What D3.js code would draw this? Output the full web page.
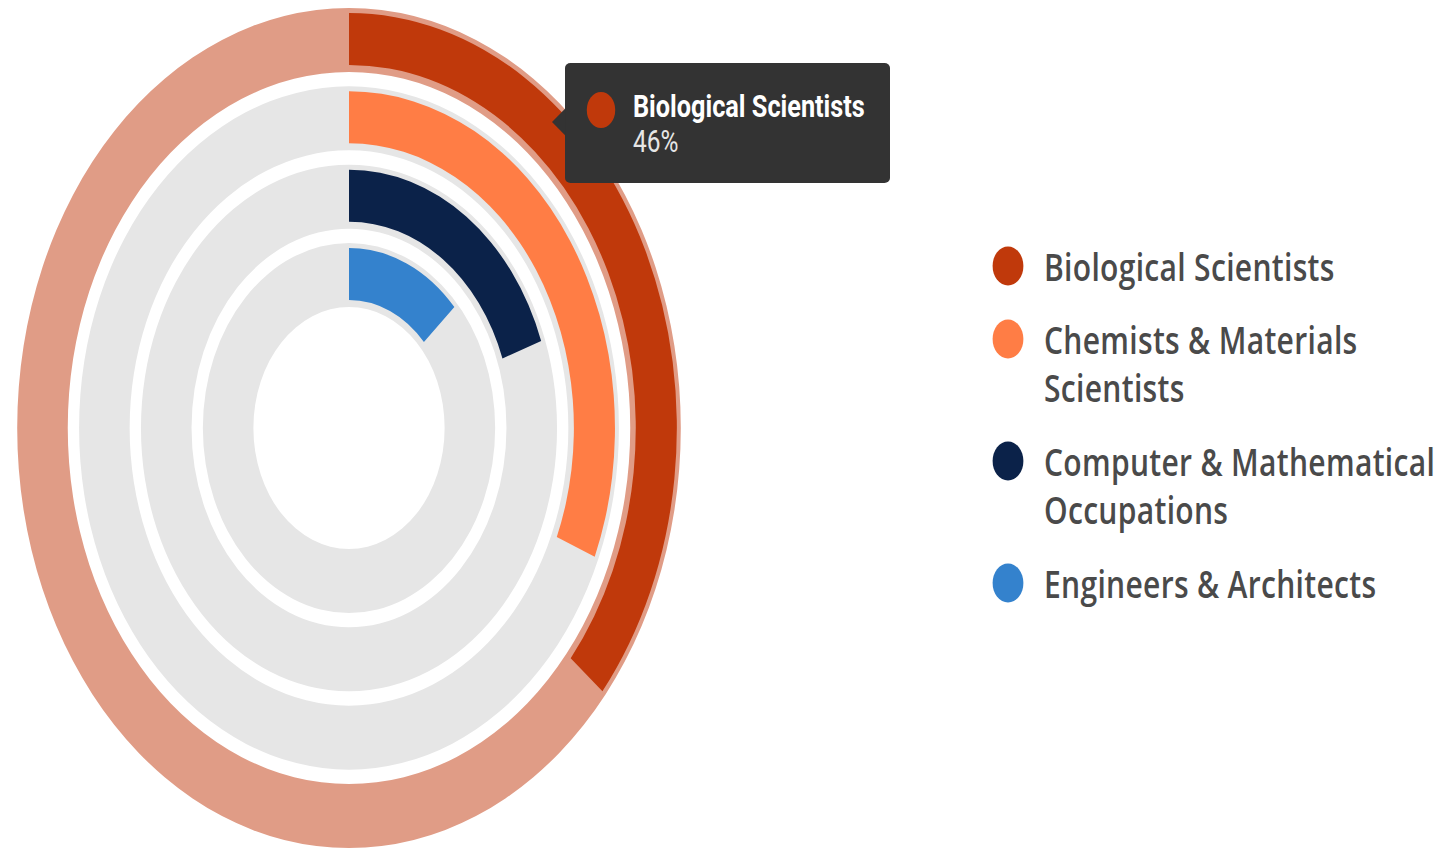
<!DOCTYPE html>
<html>
<head>
<meta charset="utf-8">
<script src="https://cdn.jsdelivr.net/npm/d3@7"></script>
<style>
  html, body { margin: 0; padding: 0; background: #fff; }
  svg { display: block; }
</style>
</head>
<body>
<svg id="chart" width="1442" height="850"></svg>
<script>
// ---- data ----
const categories = ["Biological Scientists", "Chemists & Materials Scientists", "Computer & Mathematical Occupations", "Engineers & Architects"];
const values = [46, 40, 25, 17];
const colors = ["#c0390b", "#ff7d45", "#0b2249", "#3482cd"];
const legendLines = [["Biological Scientists"], ["Chemists & Materials", "Scientists"], ["Computer & Mathematical", "Occupations"], ["Engineers & Architects"]];
const hovered = 0; // highlighted series (tooltip)
const angleMax = 128;

// ---- layout ----
const sx = 0.79;
const svg = d3.select("#chart");
const root = svg.append("g").attr("transform", `scale(${sx},1)`);
const cx = 349 / sx, cy = 428;

const ring = d3.scalePoint().domain(categories).range([420, 185]);
const angle = d3.scaleLinear().domain([0, angleMax]).range([0, 2 * Math.PI]);

const g = root.append("g").attr("transform", `translate(${cx},${cy})`);

const trackW = 64;
categories.forEach((c, i) => {
  const ro = ring(c);
  const track = d3.arc().innerRadius(ro - trackW).outerRadius(ro).startAngle(0).endAngle(2 * Math.PI);
  g.append("path").attr("d", track()).attr("fill", i === hovered ? "#e09c86" : "#e6e6e6");
  const bar = d3.arc().innerRadius(ro - 57).outerRadius(ro - 5).startAngle(0).endAngle(angle(values[i]));
  g.append("path").attr("d", bar()).attr("fill", colors[i]);
});

// ---- tooltip ----
const tt = root.append("g");
const bx0 = 565 / sx, bx1 = 890 / sx, by0 = 63, by1 = 183;
tt.append("rect").attr("x", bx0).attr("y", by0).attr("width", bx1 - bx0).attr("height", by1 - by0)
  .attr("rx", 7).attr("ry", 5).attr("fill", "#333333");
tt.append("path").attr("d", `M${bx0 + 1},${108} L${552 / sx},${122} L${bx0 + 1},${136} Z`).attr("fill", "#333333");
tt.append("ellipse").attr("cx", 601 / sx).attr("cy", 110).attr("rx", 18).attr("ry", 18).attr("fill", colors[hovered]);
tt.append("text").attr("x", 633 / sx).attr("y", 117)
  .attr("font-family", "Roboto, sans-serif").attr("font-weight", 700).attr("font-size", 32)
  .attr("fill", "#ffffff").text(categories[hovered]);
tt.append("text").attr("x", 633 / sx).attr("y", 152)
  .attr("font-family", "Roboto, sans-serif").attr("font-weight", 400).attr("font-size", 31)
  .attr("fill", "#e6e6e6").text(values[hovered] + "%");

// ---- legend ----
const legY = [266, 339, 461, 583];
const lg = root.append("g");
categories.forEach((c, i) => {
  lg.append("circle").attr("cx", 1008 / sx).attr("cy", legY[i]).attr("r", 19.5).attr("fill", colors[i]);
  legendLines[i].forEach((line, j) => {
    lg.append("text").attr("x", 1044 / sx).attr("y", legY[i] + 15 + j * 48)
      .attr("font-family", "'Open Sans', sans-serif").attr("font-weight", 600).attr("font-size", 38)
      .attr("letter-spacing", 0.4)
      .attr("fill", "#4a4a4a").text(line);
  });
});
</script>
</body>
</html>
